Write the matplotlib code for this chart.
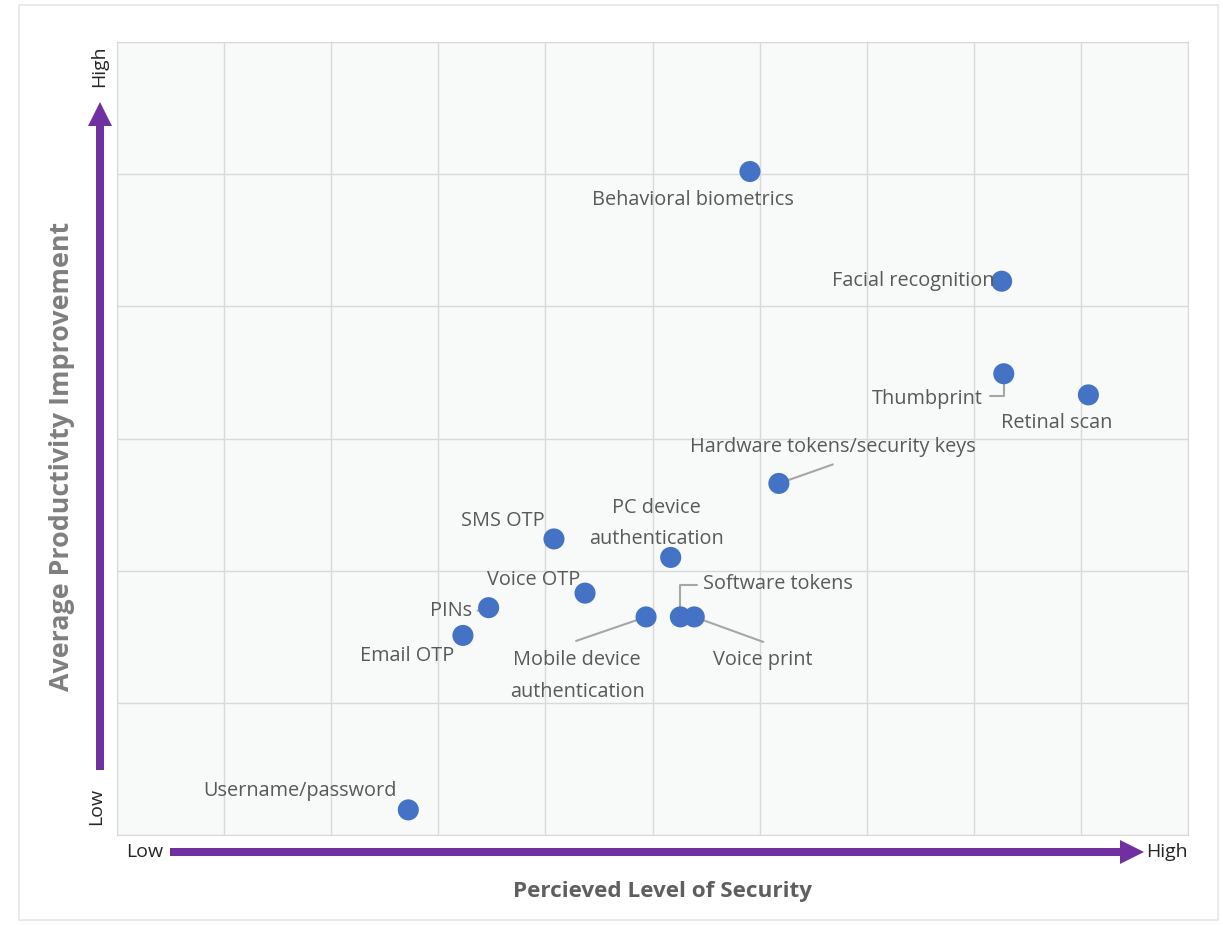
import matplotlib
matplotlib.use("Agg")
import matplotlib.pyplot as plt
from matplotlib.patches import Rectangle, FancyArrow

# ---- data (perceived security 0-10, productivity 0-6) ----
methods = ["Behavioral biometrics", "Facial recognition", "Thumbprint", "Retinal scan",
           "Hardware tokens/security keys", "SMS OTP", "PC device\nauthentication",
           "Voice OTP", "PINs", "Email OTP", "Mobile device\nauthentication",
           "Software tokens", "Voice print", "Username/password"]
security = [5.91, 8.26, 8.28, 9.07, 6.18, 4.08, 5.17, 4.37, 3.47, 3.23, 4.94, 5.26, 5.39, 2.72]
productivity = [5.02, 4.19, 3.49, 3.33, 2.66, 2.24, 2.10, 1.83, 1.72, 1.51, 1.65, 1.65, 1.65, 0.19]

# label placement (offset pixels, alignment)
label_offsets = [(-57, -28, "center"), (-7, 0, "right"), (-21, -25, "right"), (-32, -28, "center"),
                 (54, 36, "center"), (-9, 18, "right"), (-14, 34, "center"),
                 (-5, 13, "right"), (-17, -3, "right"), (-56, -21, "center"), (-69, -59, "center"),
                 (23, 33, "left"), (68, -43, "center"), (-108, 19, "center")]

W, H = 1223, 925
fig = plt.figure(figsize=(W / 100, H / 100), dpi=100)
fig.patch.set_facecolor("white")
fig.add_artist(Rectangle((19 / W, 5 / H), (1218 - 19) / W, (920 - 5) / H, transform=fig.transFigure,
                         fill=False, edgecolor="#e6e6e6", linewidth=1.2))

ax = fig.add_axes([117 / W, (H - 835) / H, (1188 - 117) / W, (835 - 42) / H])
ax.set_facecolor("#f8f9f9")
ax.set_xlim(0, 10)
ax.set_ylim(0, 6)
ax.set_xticks(range(0, 11))
ax.set_yticks(range(0, 7))
ax.tick_params(length=0, labelbottom=False, labelleft=False)
ax.grid(True, color="#d9d9d9", linewidth=1)
ax.set_axisbelow(True)
for s in ax.spines.values():
    s.set_color("#d9d9d9")

font = "Open Sans"
txtcol = "#595959"
ax.scatter(security, productivity, s=230, color="#4472c4", zorder=3, edgecolors="none")

for name, x, y, (dx, dy, ha) in zip(methods, security, productivity, label_offsets):
    ax.annotate(name, (x, y), xytext=(dx, dy), textcoords="offset pixels", ha=ha, va="center",
                fontsize=14.3, color=txtcol, family=font, linespacing=1.75, zorder=4)

# leader lines
lp = dict(arrowstyle="-", color="#a6a6a6", lw=1.5, shrinkA=0, shrinkB=0)
leaders = {"Hardware tokens/security keys": ((54, 19), None),
           "Mobile device\nauthentication": ((-70, -24), None),
           "Voice print": ((69, -25), None),
           "PINs": ((-11, -3), None),
           "Thumbprint": ((-14, -22), "angle,angleA=0,angleB=90,rad=0"),
           "Software tokens": ((17, 32), "angle,angleA=0,angleB=90,rad=0")}
for name, (off, cs) in leaders.items():
    i = methods.index(name)
    props = dict(lp)
    if cs:
        props["connectionstyle"] = cs
    ax.annotate("", (security[i], productivity[i]), xytext=off, textcoords="offset pixels",
                arrowprops=props, zorder=2)

# purple axis arrows (decoration)
purple = "#7030a0"
fig.add_artist(FancyArrow(170 / W, (H - 852) / H, (1120 - 170) / W, 0,
               width=8 / H, head_width=24 / H, head_length=24 / W, length_includes_head=False,
               transform=fig.transFigure, color=purple, linewidth=0))
fig.add_artist(FancyArrow(100 / W, (H - 770) / H, 0, (770 - 126) / H,
               width=8 / W, head_width=24 / W, head_length=24 / H, length_includes_head=False,
               transform=fig.transFigure, color=purple, linewidth=0))

dark = "#262626"
fig.text(126 / W, (H - 852) / H, "Low", ha="left", va="center", fontsize=14, color=dark, family=font)
fig.text(1146 / W, (H - 852) / H, "High", ha="left", va="center", fontsize=14, color=dark, family=font)
fig.text(99 / W, (H - 66) / H, "High", ha="center", va="center", rotation=90, fontsize=14, color=dark, family=font)
fig.text(96 / W, (H - 806) / H, "Low", ha="center", va="center", rotation=90, fontsize=14, color=dark, family=font)

fig.text(663 / W, (H - 892) / H, "Percieved Level of Security", ha="center", va="center",
         fontsize=16.2, fontweight="bold", color="#5f5f5f", family=font)
fig.text(62 / W, (H - 456) / H, "Average Productivity Improvement", ha="center", va="center",
         rotation=90, fontsize=19.3, fontweight="bold", color="#7f7f7f", family=font)

fig.savefig("out.png", dpi=100, facecolor="white")
